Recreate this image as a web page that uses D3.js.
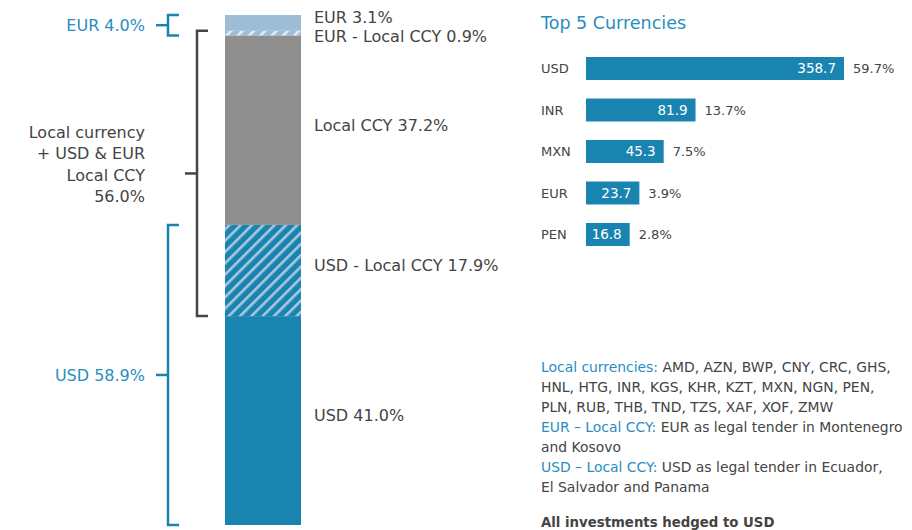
<!DOCTYPE html>
<html>
<head>
<meta charset="utf-8">
<script src="https://cdn.jsdelivr.net/npm/d3@7"></script>
<style>
  body { margin: 0; background: #fff; }
  svg { display: block; font-family: "DejaVu Sans", Verdana, sans-serif; }
</style>
</head>
<body>
<svg id="chart" width="912" height="530"></svg>
<script>
// stacked bar segments, bottom to top
var segNames = ["USD", "USD - Local CCY", "Local CCY", "EUR - Local CCY", "EUR"];
var segValues = [41.0, 17.9, 37.2, 0.9, 3.1];

// top 5 currencies
var topCcy = ["USD", "INR", "MXN", "EUR", "PEN"];
var topAmounts = [358.7, 81.9, 45.3, 23.7, 16.8];
var topShares = [59.7, 13.7, 7.5, 3.9, 2.8];

// notes under the bars: [highlighted part, plain part]
var noteLines = [
  ["Local currencies: ", "AMD, AZN, BWP, CNY, CRC, GHS,"],
  ["", "HNL, HTG, INR, KGS, KHR, KZT, MXN, NGN, PEN,"],
  ["", "PLN, RUB, THB, TND, TZS, XAF, XOF, ZMW"],
  ["EUR \u2013 Local CCY: ", "EUR as legal tender in Montenegro"],
  ["", "and Kosovo"],
  ["USD \u2013 Local CCY: ", "USD as legal tender in Ecuador,"],
  ["", "El Salvador and Panama"]
];
var footNote = "All investments hedged to USD";

var BLUE = "#1a84b1", LIGHTBLUE = "#9dbcd6", GREY = "#8f8f8f",
    TEXT = "#444", BLUETEXT = "#2a8dbf", DARK = "#444";

var svg = d3.select("#chart");
var fmt = d3.format(".1f");

// hatch patterns
var defs = svg.append("defs");
function addHatch(id, base, stripe) {
  var p = defs.append("pattern")
    .attr("id", id)
    .attr("patternUnits", "userSpaceOnUse")
    .attr("width", 8).attr("height", 8)
    .attr("patternTransform", "rotate(45)");
  p.append("rect").attr("width", 8).attr("height", 8).attr("fill", base);
  p.append("rect").attr("x", 0).attr("width", 2.6).attr("height", 8).attr("fill", stripe);
}
addHatch("hatchUsd", BLUE, "#a9c8df");
addHatch("hatchEur", LIGHTBLUE, "#e6eef5");

var segFills = [BLUE, "url(#hatchUsd)", GREY, "url(#hatchEur)", LIGHTBLUE];

// ---------- stacked column ----------
var total = d3.sum(segValues);
var y = d3.scaleLinear().domain([0, total]).range([525, 15]);
var barX = 225, barW = 76;

var stackData = [];
var acc = 0;
segValues.forEach(function (v, i) {
  stackData.push({ name: segNames[i], value: v, y0: acc, y1: acc + v, fill: segFills[i] });
  acc += v;
});

svg.append("g").selectAll("rect")
  .data(stackData)
  .enter()
  .append("rect")
  .attr("x", barX)
  .attr("width", barW)
  .attr("y", function (d) { return y(d.y1); })
  .attr("height", function (d) { return y(d.y0) - y(d.y1); })
  .attr("fill", function (d) { return d.fill; });

// segment labels
svg.append("g").selectAll("text")
  .data(stackData)
  .enter()
  .append("text")
  .attr("x", 314)
  .attr("y", function (d, i) {
    if (d.name === "EUR") return y(d.y1) + 2;
    if (d.name === "EUR - Local CCY") return y(d.y1) + 6;
    return (y(d.y0) + y(d.y1)) / 2 - 5;
  })
  .attr("dy", "0.35em")
  .attr("font-size", 16)
  .attr("fill", TEXT)
  .text(function (d) { return d.name + " " + fmt(d.value) + "%"; });

// ---------- brackets ----------
function bracket(x, from, to, color, w) {
  var top = y(to), bot = y(from), mid = (top + bot) / 2;
  var g = svg.append("g")
    .attr("fill", "none")
    .attr("stroke", color)
    .attr("stroke-width", w);
  g.append("path").attr("d", "M" + (x + 11) + "," + top + "H" + x + "V" + bot + "H" + (x + 11));
  g.append("path").attr("d", "M" + (x - 12) + "," + mid + "H" + x);
  return mid;
}

var eurFrom = segValues[0] + segValues[1] + segValues[2];
var eurTotal = segValues[3] + segValues[4];
var localFrom = segValues[0];
var localTotal = segValues[1] + segValues[2] + segValues[3];
var usdTotal = segValues[0] + segValues[1];

var eurMid = bracket(168, eurFrom, total, BLUE, 2.5);
var localMid = bracket(197, localFrom, localFrom + localTotal, DARK, 2.5);
var usdMid = bracket(168, 0, usdTotal, BLUE, 2.5);

svg.append("text")
  .attr("x", 145).attr("y", eurMid).attr("dy", "0.35em")
  .attr("text-anchor", "end").attr("font-size", 16).attr("fill", BLUETEXT)
  .text("EUR " + fmt(eurTotal) + "%");

svg.append("text")
  .attr("x", 145).attr("y", usdMid).attr("dy", "0.35em")
  .attr("text-anchor", "end").attr("font-size", 16).attr("fill", BLUETEXT)
  .text("USD " + fmt(usdTotal) + "%");

var localLines = ["Local currency", "+ USD & EUR", "Local CCY", fmt(localTotal) + "%"];
svg.append("g").selectAll("text")
  .data(localLines)
  .enter()
  .append("text")
  .attr("x", 145)
  .attr("y", function (d, i) { return localMid - 41 + i * 21.3; })
  .attr("dy", "0.35em")
  .attr("text-anchor", "end")
  .attr("font-size", 16)
  .attr("fill", TEXT)
  .text(function (d) { return d; });

// ---------- top 5 currencies ----------
svg.append("text")
  .attr("x", 541).attr("y", 23).attr("dy", "0.35em")
  .attr("font-size", 17.5).attr("fill", BLUETEXT)
  .text("Top 5 Currencies");

var yb = d3.scaleBand().domain(topCcy).range([47.75, 255.25]).paddingInner(0.446).paddingOuter(0.223);
var xb = d3.scalePow().exponent(0.58).domain([0, d3.max(topAmounts)]).range([0, 258]);
var bx0 = 586;

var topData = topCcy.map(function (c, i) {
  return { ccy: c, amount: topAmounts[i], share: topShares[i] };
});

var rows = svg.append("g").selectAll("g")
  .data(topData)
  .enter()
  .append("g");

rows.append("rect")
  .attr("x", bx0)
  .attr("y", function (d) { return yb(d.ccy); })
  .attr("width", function (d) { return xb(d.amount); })
  .attr("height", yb.bandwidth())
  .attr("fill", BLUE);

rows.append("text")
  .attr("x", 541)
  .attr("y", function (d) { return yb(d.ccy) + yb.bandwidth() / 2; })
  .attr("dy", "0.35em")
  .attr("font-size", 13)
  .attr("fill", TEXT)
  .text(function (d) { return d.ccy; });

rows.append("text")
  .attr("x", function (d) { return bx0 + xb(d.amount) - 8; })
  .attr("y", function (d) { return yb(d.ccy) + yb.bandwidth() / 2; })
  .attr("dy", "0.35em")
  .attr("text-anchor", "end")
  .attr("font-size", 13.5)
  .attr("fill", "#fff")
  .text(function (d) { return fmt(d.amount); });

rows.append("text")
  .attr("x", function (d) { return bx0 + xb(d.amount) + 9; })
  .attr("y", function (d) { return yb(d.ccy) + yb.bandwidth() / 2; })
  .attr("dy", "0.35em")
  .attr("font-size", 13)
  .attr("fill", TEXT)
  .text(function (d) { return fmt(d.share) + "%"; });

// ---------- notes ----------
var notes = svg.append("g").attr("font-size", 13.9);
noteLines.forEach(function (ln, i) {
  var t = notes.append("text")
    .attr("x", 541)
    .attr("y", 367 + i * 20)
    .attr("dy", "0.35em");
  if (ln[0]) t.append("tspan").attr("fill", BLUETEXT).text(ln[0]);
  t.append("tspan").attr("fill", TEXT).text(ln[1]);
});

svg.append("text")
  .attr("x", 541).attr("y", 522).attr("dy", "0.35em")
  .attr("font-size", 13.3).attr("font-weight", "bold").attr("fill", TEXT)
  .text(footNote);
</script>
</body>
</html>
